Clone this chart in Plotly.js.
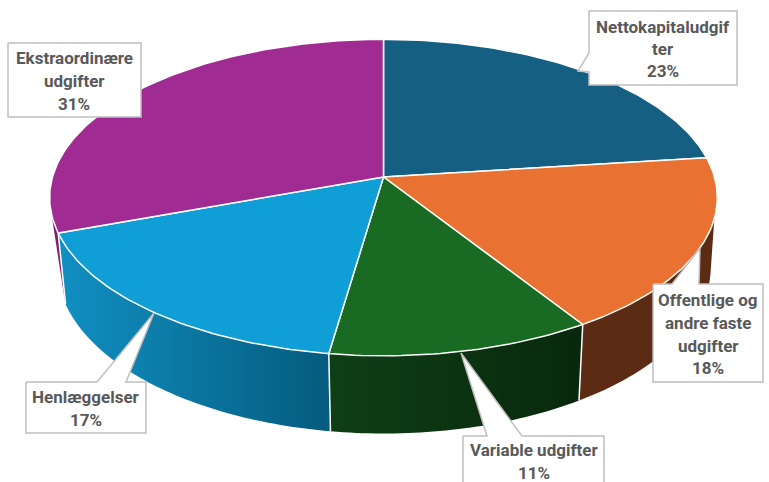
<!DOCTYPE html>
<html><head><meta charset="utf-8">
<script src="https://cdn.plot.ly/plotly-3.0.1.min.js"></script>
<style>html,body{margin:0;padding:0;background:#fff;overflow:hidden}#c{width:769px;height:482px}</style>
</head><body><div id="c"></div>
<script>
const categories=['Nettokapitaludgifter','Offentlige og andre faste udgifter','Variable udgifter','Henlæggelser','Ekstraordinære udgifter'];
const shares=[23,18,11.3,17.1,30.6];
const labelLines=[['Nettokapitaludgif','ter'],['Offentlige og','andre faste','udgifter'],['Variable udgifter'],['Henlæggelser'],['Ekstraordinære','udgifter']];
const topColors=['#156082','#E97132','#196B24','#0F9ED5','#A02B93'];
const wallColors=[null,['#5C2B14','#5C2B14'],['#0F3F16','#08280D'],['#1090C2','#055B7E'],['#7D2072','#7D2072']];

// projection of the pie disc, page pixels
const topDisc={cx:383.5,cy:177,bx:331,ay:155.5,k:0.13};
const lowDisc={cx:384,cy:245,bx:324,ay:164,k:0.13};
function proj(d,deg){const t=deg*Math.PI/180,u=Math.cos(t),s=Math.sin(t),w=1+d.k*u;
  return [d.cx+d.bx*s/w,d.cy-d.ay*u/w];}
function arc(d,a,b){const p=[],n=Math.max(2,Math.ceil(Math.abs(b-a)));
  for(let i=0;i<=n;i++)p.push(proj(d,a+(b-a)*i/n));return p;}
const xs=p=>p.map(q=>q[0]),ys=p=>p.map(q=>q[1]);

const total=shares.reduce((a,b)=>a+b,0);
let acc=0;const starts=[],ends=[];
shares.forEach(v=>{starts.push(acc/total*360);acc+=v;ends.push(acc/total*360);});

const traces=[];
// side walls
[1,2,3,4].forEach(i=>{
  let top,low;
  if(i===1){top=arc(topDisc,105,ends[1]);low=arc(lowDisc,100,ends[1]);}
  else if(i===4){top=arc(topDisc,starts[4],starts[4]+7);low=arc(lowDisc,starts[4],starts[4]+0.2);}
  else{top=arc(topDisc,starts[i],ends[i]);low=arc(lowDisc,starts[i],ends[i]);}
  const poly=top.concat(low.slice().reverse());poly.push(poly[0]);
  const px=xs(poly);
  traces.push({x:px,y:ys(poly),mode:'none',type:'scatter',fill:'toself',hoverinfo:'skip',
    fillgradient:{type:'horizontal',start:Math.min(...px),stop:Math.max(...px),
      colorscale:[[0,wallColors[i][0]],[1,wallColors[i][1]]]}});
});
// wall separators
[2,3,4].forEach(i=>{
  const a=proj(topDisc,starts[i]),b=proj(lowDisc,starts[i]);
  traces.push({x:[a[0],b[0]],y:[a[1],b[1]],mode:'lines',line:{color:'#fff',width:1.5},hoverinfo:'skip'});
});
// top faces
shares.forEach((v,i)=>{
  const p=[[topDisc.cx,topDisc.cy]].concat(arc(topDisc,starts[i],ends[i]));p.push(p[0]);
  traces.push({x:xs(p),y:ys(p),mode:'lines',type:'scatter',fill:'toself',fillcolor:topColors[i],
    line:{color:'#fff',width:1.5},hoverinfo:'skip',name:categories[i]});
});
// callouts
const boxes=[
 {l:589,t:11,r:737,b:85,tip:[578,71],base:[[589,72],[589,53]]},
 {l:653,t:284,r:763,b:382,tip:[700,248],base:[[672,284],[699,284]]},
 {l:463,t:436,r:604,b:492,tip:[461,353],base:[[487,436],[522,436]]},
 {l:26,t:382,r:146,b:433,tip:[154,313],base:[[97,382],[126,382]]},
 {l:8,t:43,r:141,b:117,tip:null,base:null}];
boxes.forEach(b=>{
  let p;
  if(!b.tip)p=[[b.l,b.t],[b.r,b.t],[b.r,b.b],[b.l,b.b],[b.l,b.t]];
  else if(b.base[0][0]===b.l)p=[[b.l,b.t],[b.r,b.t],[b.r,b.b],[b.l,b.b],b.base[0],b.tip,b.base[1],[b.l,b.t]];
  else p=[[b.l,b.t],b.base[0],b.tip,b.base[1],[b.r,b.t],[b.r,b.b],[b.l,b.b],[b.l,b.t]];
  traces.push({x:xs(p),y:ys(p),mode:'lines',fill:'toself',fillcolor:'#fff',line:{color:'#BFBFBF',width:1.5},hoverinfo:'skip'});
});
// label texts
const lineY=[[27,49,71],[300,323,346,368],[450,473],[397,420],[58,81,104]];
const lineX=[663,708,534,86,74];
const annotations=[];
shares.forEach((v,i)=>{
  labelLines[i].concat([Math.round(v)+'%']).forEach((txt,j)=>{
    annotations.push({x:lineX[i],y:lineY[i][j],text:txt,showarrow:false,xanchor:'center',yanchor:'middle',
      font:{family:'Roboto,sans-serif',size:17,color:'#595959',weight:700}});
  });
});
Plotly.newPlot('c',traces,{
  width:769,height:482,margin:{l:0,r:0,t:0,b:0},showlegend:false,
  paper_bgcolor:'#fff',plot_bgcolor:'#fff',
  xaxis:{range:[0,769],visible:false,fixedrange:true},
  yaxis:{range:[482,0],visible:false,fixedrange:true},
  annotations
},{displayModeBar:false,staticPlot:true});
</script></body></html>
